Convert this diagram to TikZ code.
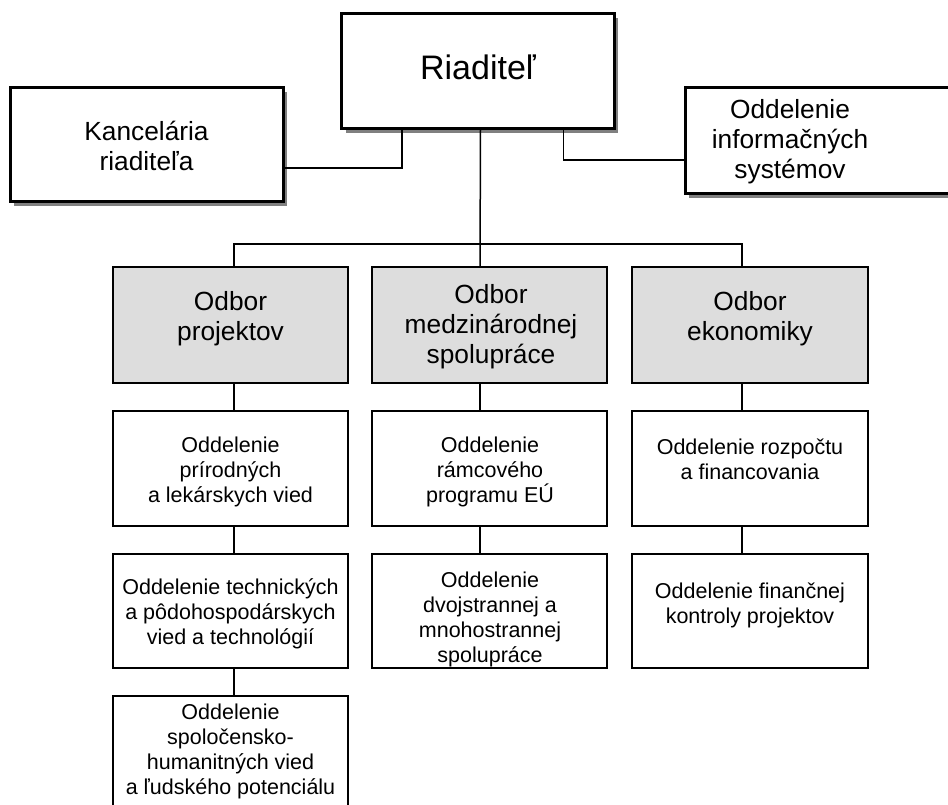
\documentclass[tikz,border=0pt]{standalone}
\usepackage{fontspec}
\setmainfont{Liberation Sans}
\usetikzlibrary{shadows}
\definecolor{boxgray}{RGB}{221,221,221}
\definecolor{shadowgray}{RGB}{128,128,128}
\tikzset{
  topbox/.style={draw, line width=3pt, fill=white, inner sep=0pt, outer sep=0pt,
    drop shadow={shadow xshift=4pt, shadow yshift=-4pt, fill=shadowgray, opacity=1}},
  graybox/.style={draw, line width=2.7pt, fill=boxgray, inner sep=0pt, outer sep=0pt},
  whitebox/.style={draw, line width=1.5pt, fill=white, inner sep=0pt, outer sep=0pt},
  conn/.style={line width=1.5pt},
  bigtxt/.style={align=center, font=\fontsize{26.3pt}{30pt}\selectfont, inner sep=0pt},
  smalltxt/.style={align=center, font=\fontsize{21.5pt}{25pt}\selectfont, inner sep=0pt},
}
\begin{document}
\begin{tikzpicture}[x=1pt,y=-1pt]
\useasboundingbox (0,0) rectangle (948,805);
% top level
\node[topbox, minimum width=272.5pt, minimum height=115pt] (riad) at (477.75,71.5) {};
\node[topbox, minimum width=273pt, minimum height=114pt] (kanc) at (146.5,145) {};
\node[topbox, minimum width=273pt, minimum height=106pt] (info) at (821.5,141) {};
\node[inner sep=0pt, anchor=base, font=\fontsize{34pt}{38pt}\selectfont] (riadT) at (478,80) {Riaditeľ};
\node[bigtxt] (kancT) at (146.5,146) {Kancelária\\riaditeľa};
\node[bigtxt] (infoT) at (790,142) {Oddelenie\\informačných\\systémov};
% gray
\node[graybox, minimum width=235pt, minimum height=116pt] (g1) at (230.5,325) {};
\node[graybox, minimum width=235pt, minimum height=116pt] (g2) at (489.5,325) {};
\node[graybox, minimum width=236pt, minimum height=116pt] (g3) at (750,325) {};
\node[bigtxt] (g1T) at (230.5,319) {Odbor\\projektov};
\node[bigtxt] (g2T) at (491,327) {Odbor\\medzinárodnej\\spolupráce};
\node[bigtxt] (g3T) at (750,319) {Odbor\\ekonomiky};
% white
\node[whitebox, minimum width=235pt, minimum height=115pt] (w11) at (230.5,468.5) {};
\node[whitebox, minimum width=235pt, minimum height=114pt] (w12) at (230.5,611) {};
\node[whitebox, minimum width=235pt, minimum height=116pt] (w13) at (230.5,754) {};
\node[whitebox, minimum width=235pt, minimum height=115pt] (w21) at (489.5,468.5) {};
\node[whitebox, minimum width=235pt, minimum height=114pt] (w22) at (489.5,611) {};
\node[whitebox, minimum width=236pt, minimum height=115pt] (w31) at (750,468.5) {};
\node[whitebox, minimum width=236pt, minimum height=114pt] (w32) at (750,611) {};
\node[smalltxt] (w11T) at (230.5,472) {Oddelenie\\prírodných\\a lekárskych vied};
\node[smalltxt] (w12T) at (230.5,614) {Oddelenie technických\\a pôdohospodárskych\\vied a technológií};
\node[smalltxt] (w13T) at (230.5,751) {Oddelenie\\spoločensko-\\humanitných vied\\a ľudského potenciálu};
\node[smalltxt] (w21T) at (490,472) {Oddelenie\\rámcového\\programu EÚ};
\begin{scope}
\clip (w22.south west) rectangle (w22.north east);
\node[smalltxt] (w22T) at (490,619) {Oddelenie\\dvojstrannej a\\mnohostrannej\\spolupráce};
\end{scope}
\node[smalltxt] (w31T) at (750,459) {Oddelenie rozpočtu\\a financovania};
\node[smalltxt] (w32T) at (750,605) {Oddelenie finančnej\\kontroly projektov};
% connectors
\draw[conn] ([yshift=-23pt]kanc.east) -| ([xshift=-75.75pt]riad.south);
\draw[conn] ([xshift=85.5pt]riad.south) |- ([yshift=-19pt]info.west);
\draw[conn] ([xshift=2.75pt]riad.south) -- ([xshift=-9.5pt]g2.north);
\draw[conn] ([xshift=3.5pt]g1.north) -- ++(0,-23) -| ([xshift=-8pt]g3.north);
\draw[conn] ([xshift=3.5pt]g1.south) -- ([xshift=3.5pt]w11.north);
\draw[conn] ([xshift=3.5pt]w11.south) -- ([xshift=3.5pt]w12.north);
\draw[conn] ([xshift=3.5pt]w12.south) -- ([xshift=3.5pt]w13.north);
\draw[conn] ([xshift=-9.5pt]g2.south) -- ([xshift=-9.5pt]w21.north);
\draw[conn] ([xshift=-9.5pt]w21.south) -- ([xshift=-9.5pt]w22.north);
\draw[conn] ([xshift=-8pt]g3.south) -- ([xshift=-8pt]w31.north);
\draw[conn] ([xshift=-8pt]w31.south) -- ([xshift=-8pt]w32.north);
\end{tikzpicture}
\end{document}
